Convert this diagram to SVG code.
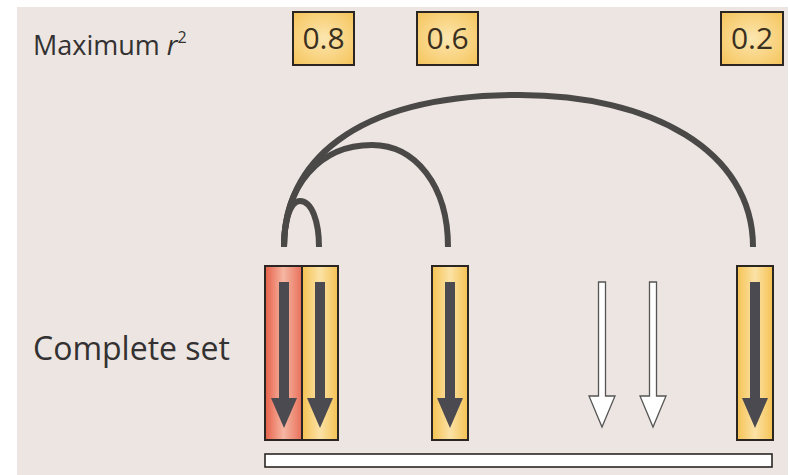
<svg xmlns="http://www.w3.org/2000/svg" xmlns:xlink="http://www.w3.org/1999/xlink" width="790" height="475" viewBox="0 0 790 475">
  <style>
    .label { font-family: "Open Sans", "Liberation Sans", sans-serif; fill: #333131; }
    .value { font-family: "Open Sans", "Liberation Sans", sans-serif; font-size: 30px; fill: #3a3020; text-anchor: middle; }
    .box { stroke: #2b2622; stroke-width: 2; }
    .arc { fill: none; stroke: #4a4948; stroke-width: 6; stroke-linecap: butt; }
    .snp-dark { fill: #4b4a50; }
    .snp-open { fill: #ffffff; stroke: #555555; stroke-width: 1.3; stroke-linejoin: miter; }
  </style>
  <defs>
    <linearGradient id="yellowFill" x1="0" y1="0" x2="1" y2="0">
      <stop offset="0" stop-color="#f5c253"/>
      <stop offset="0.5" stop-color="#fbe2a6"/>
      <stop offset="1" stop-color="#f5c253"/>
    </linearGradient>
    <linearGradient id="redFill" x1="0" y1="0" x2="1" y2="0">
      <stop offset="0" stop-color="#e65f48"/>
      <stop offset="0.5" stop-color="#f6b7a3"/>
      <stop offset="1" stop-color="#e8705a"/>
    </linearGradient>
    <radialGradient id="boxFill" cx="0.5" cy="0.5" r="0.7">
      <stop offset="0" stop-color="#fce6b0"/>
      <stop offset="1" stop-color="#f5c45a"/>
    </radialGradient>
    <path id="dark-arrow" class="snp-dark" d="M-5,282 H5 V398 H13 L0,428 L-13,398 H-5 Z"/>
    <path id="open-arrow" class="snp-open" d="M-3.5,282 H3.5 V396 H13 L0,427 L-13,396 H-3.5 Z"/>
  </defs>

  <!-- panel background -->
  <rect x="17" y="7" width="771" height="468" fill="#ece5e1"/>

  <!-- row labels -->
  <g id="label-max">
    <text class="label" x="33" y="55" font-size="27">Maximum <tspan font-style="italic">r</tspan><tspan font-size="16" dy="-12">2</tspan></text>
  </g>
  <g id="label-complete">
    <text class="label" x="33" y="360" font-size="32">Complete set</text>
  </g>

  <!-- maximum r2 values -->
  <g id="value-08">
    <rect class="box" x="293" y="12" width="61" height="53" fill="url(#boxFill)"/>
    <text class="value" x="323.5" y="49">0.8</text>
  </g>
  <g id="value-06">
    <rect class="box" x="417" y="12" width="61" height="53" fill="url(#boxFill)"/>
    <text class="value" x="447.5" y="49">0.6</text>
  </g>
  <g id="value-02">
    <rect class="box" x="721" y="12" width="62" height="53" fill="url(#boxFill)"/>
    <text class="value" x="752" y="49">0.2</text>
  </g>

  <!-- tag SNP links -->
  <g id="connectors">
    <path class="arc" d="M284,247 C284,222 290,201 300,201 C312,201 319,222 319,247"/>
    <path class="arc" d="M284,247 C284,185 320,145 372,145 C415,145 448,185 448,247"/>
    <path class="arc" d="M284,247 C284,165 350,95 520,95 C650,95 753,150 753,247"/>
  </g>

  <!-- SNP columns -->
  <g id="snp-1">
    <rect class="box" x="265" y="266" width="37" height="174" fill="url(#redFill)"/>
    <use xlink:href="#dark-arrow" x="284"/>
  </g>
  <g id="snp-2">
    <rect class="box" x="302" y="266" width="36" height="174" fill="url(#yellowFill)"/>
    <use xlink:href="#dark-arrow" x="320"/>
  </g>
  <g id="snp-3">
    <rect class="box" x="432" y="266" width="36" height="174" fill="url(#yellowFill)"/>
    <use xlink:href="#dark-arrow" x="450"/>
  </g>
  <g id="snp-4">
    <use xlink:href="#open-arrow" x="602"/>
  </g>
  <g id="snp-5">
    <use xlink:href="#open-arrow" x="653"/>
  </g>
  <g id="snp-6">
    <rect class="box" x="737" y="266" width="36" height="174" fill="url(#yellowFill)"/>
    <use xlink:href="#dark-arrow" x="755"/>
  </g>

  <!-- chromosome segment -->
  <g id="segment">
    <rect x="265" y="454" width="507" height="13" fill="#ffffff" stroke="#2b2622" stroke-width="1.6"/>
  </g>
</svg>
